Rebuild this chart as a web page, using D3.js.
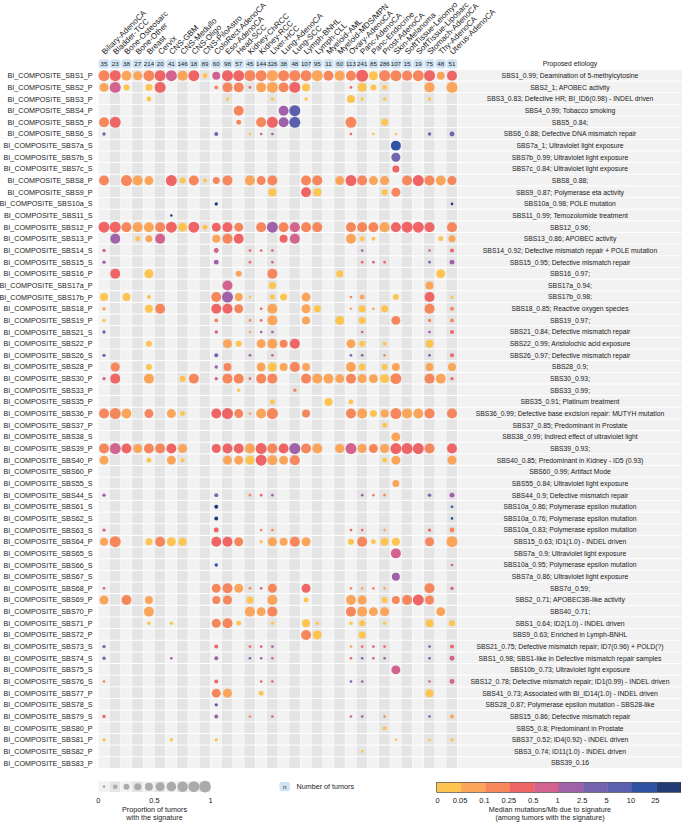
<!DOCTYPE html>
<html>
<head>
<meta charset="utf-8">
<script src="https://cdn.jsdelivr.net/npm/d3@7"></script>
<style>
  body { margin: 0; background: #fff; }
  svg { display: block; font-family: "Liberation Sans", Arial, sans-serif; }
</style>
</head>
<body>
<div class="chart"></div>
<script>
var svgWidth = 682;
var svgHeight = 828;

// cancer types (columns) and tumor counts
var cancerTypes = ["Biliary-AdenoCA", "Bladder-TCC", "Bone-Osteosarc", "Bone-Other", "Breast", "Cervix",
  "CNS-GBM", "CNS-Medullo", "CNS-Oligo", "CNS-PiloAstro", "ColoRect-AdenoCA", "Eso-AdenoCA", "Head-SCC",
  "Kidney-ChRCC", "Kidney-RCC", "Liver-HCC", "Lung-AdenoCA", "Lung-SCC", "Lymph-BNHL", "Lymph-CLL",
  "Myeloid-AML", "Myeloid-MDS/MPN", "Ovary-AdenoCA", "Panc-AdenoCA", "Panc-Endocrine", "Prost-AdenoCA",
  "Skin-Melanoma", "SoftTissue-Leiomyo", "SoftTissue-Liposarc", "Stomach-AdenoCA", "Thy-AdenoCA", "Uterus-AdenoCA"];
var tumorCounts = [35, 23, 38, 27, 214, 20, 41, 146, 18, 89, 60, 98, 57, 45, 144, 326, 38, 48, 107, 95,
  11, 60, 113, 241, 85, 286, 107, 15, 19, 75, 48, 51];

// signatures (rows)
var signatures = ["SBS1_P", "SBS2_P", "SBS3_P", "SBS4_P", "SBS5_P", "SBS6_S", "SBS7a_S", "SBS7b_S", "SBS7c_S",
  "SBS8_P", "SBS9_P", "SBS10a_S", "SBS11_S", "SBS12_P", "SBS13_P", "SBS14_S", "SBS15_S", "SBS16_P", "SBS17a_P",
  "SBS17b_P", "SBS18_P", "SBS19_P", "SBS21_S", "SBS22_P", "SBS26_S", "SBS28_P", "SBS30_P", "SBS33_P", "SBS35_P",
  "SBS36_P", "SBS37_P", "SBS38_S", "SBS39_P", "SBS40_P", "SBS60_P", "SBS55_S", "SBS44_S", "SBS61_S", "SBS62_S",
  "SBS63_S", "SBS64_P", "SBS65_S", "SBS66_S", "SBS67_S", "SBS68_P", "SBS69_P", "SBS70_P", "SBS71_P", "SBS72_P",
  "SBS73_S", "SBS74_S", "SBS75_S", "SBS76_S", "SBS77_P", "SBS78_S", "SBS79_S", "SBS80_P", "SBS81_P", "SBS82_P",
  "SBS83_P"];

var etiologies = ["SBS1_0.99; Deamination of 5-methylcytosine", "SBS2_1; APOBEC activity",
  "SBS3_0.83; Defective HR; BI_ID6(0.98) - INDEL driven", "SBS4_0.99; Tobacco smoking", "SBS5_0.84;",
  "SBS6_0.88; Defective DNA mismatch repair", "SBS7a_1; Ultraviolet light exposure",
  "SBS7b_0.99; Ultraviolet light exposure", "SBS7c_0.84; Ultraviolet light exposure", "SBS8_0.88;",
  "SBS9_0.87; Polymerase eta activity", "SBS10a_0.98; POLE mutation", "SBS11_0.99; Temozolomide treatment",
  "SBS12_0.96;", "SBS13_0.86; APOBEC activity", "SBS14_0.92; Defective mismatch repair + POLE mutation",
  "SBS15_0.95; Defective mismatch repair", "SBS16_0.97;", "SBS17a_0.94;", "SBS17b_0.98;",
  "SBS18_0.85; Reactive oxygen species", "SBS19_0.97;", "SBS21_0.84; Defective mismatch repair",
  "SBS22_0.99; Aristolochic acid exposure", "SBS26_0.97; Defective mismatch repair", "SBS28_0.9;",
  "SBS30_0.93;", "SBS33_0.99;", "SBS35_0.91; Platinum treatment",
  "SBS36_0.99; Defective base excision repair: MUTYH mutation", "SBS37_0.85; Predominant in Prostate",
  "SBS38_0.99; Indirect effect of ultraviolet light", "SBS39_0.93;",
  "SBS40_0.85; Predominant in Kidney - ID5 (0.93)", "SBS60_0.99; Artifact Mode",
  "SBS55_0.84; Ultraviolet light exposure", "SBS44_0.9; Defective mismatch repair",
  "SBS10a_0.86; Polymerase epsilon mutation", "SBS10a_0.76; Polymerase epsilon mutation",
  "SBS10a_0.83; Polymerase epsilon mutation", "SBS15_0.63; ID1(1.0) - INDEL driven",
  "SBS7a_0.9; Ultraviolet light exposure", "SBS10a_0.95; Polymerase epsilon mutation",
  "SBS7a_0.86; Ultraviolet light exposure", "SBS7d_0.59;", "SBS2_0.71; APOBEC3B-like activity",
  "SBS40_0.71;", "SBS1_0.64; ID2(1.0) - INDEL driven", "SBS9_0.63; Enriched in Lymph-BNHL",
  "SBS21_0.75; Defective mismatch repair; ID7(0.96) + POLD(?)",
  "SBS1_0.98; SBS1-like in Defective mismatch repair samples", "SBS10b_0.73; Ultraviolet light exposure",
  "SBS12_0.78; Defective mismatch repair; ID1(0.99) - INDEL driven",
  "SBS41_0.73; Associated with BI_ID14(1.0) - INDEL driven",
  "SBS28_0.87; Polymerase epsilon mutation - SBS28-like", "SBS15_0.86; Defective mismatch repair",
  "SBS5_0.8; Predominant in Prostate", "SBS37_0.52; ID4(0.92) - INDEL driven",
  "SBS3_0.74; ID11(1.0) - INDEL driven", "SBS39_0.16"];

// one list per signature: [cancer type index, proportion of tumors, median mutations/Mb]
var dotsByRow = [
  [[0,.84,.17],[1,.84,.35],[2,.69,.07],[3,.56,.07],[4,.84,.17],[5,.84,.35],[6,.84,.7],[7,.69,.07],[8,.84,.35],[9,.17,.03],[10,.44,.7],[11,.84,.35],[12,.84,.35],[13,.84,.17],[14,.84,.17],[15,.84,.07],[16,.84,.17],[17,.84,.17],[18,.84,.17],[19,.84,.07],[20,.69,.17],[21,.69,.07],[22,.69,.17],[23,1,.35],[24,.56,.03],[25,.84,.17],[26,.84,.17],[27,.69,.17],[28,.84,.17],[29,.84,.35],[30,.44,.07],[31,.69,.35]],
  [[0,.56,.07],[1,.84,.7],[2,.25,.03],[4,.34,.03],[5,.84,.35],[10,.11,.17],[11,.69,.17],[12,.69,.17],[13,.05,.35],[14,.69,.07],[15,.84,.07],[16,.69,.17],[17,.84,.35],[18,.44,.03],[22,.05,.35],[23,.56,.03],[24,.25,.03],[25,.15,.03],[29,.69,.07],[31,.84,.07]],
  [[4,.17,.03],[11,.08,.03],[15,.08,.03],[18,.08,.03],[22,.44,.03],[23,.08,.03],[25,.08,.03],[29,.08,.03]],
  [[12,.69,.17],[16,.69,1.6],[17,.84,7]],
  [[0,.69,.17],[1,.84,.35],[12,.17,.17],[14,.69,.17],[15,.84,.35],[16,.69,1.6],[17,.84,7],[22,.84,.17],[25,.34,.03]],
  [[0,.08,3.5],[10,.11,3.5],[13,.05,.03],[14,.05,.7],[15,.05,1.6],[22,.05,.35],[24,.05,.03],[26,.05,.03],[29,.08,3.5],[31,.17,3.5]],
  [[26,.69,15]],
  [[26,.56,3.5]],
  [[26,.34,.35]],
  [[0,.69,.17],[2,.84,.17],[3,.69,.07],[4,.56,.07],[6,.84,.35],[7,.25,.03],[8,.69,.17],[9,.11,.03],[10,.34,.17],[11,.69,.17],[13,.69,.07],[14,.56,.17],[15,.69,.17],[18,.69,.17],[19,.69,.17],[21,.56,.07],[22,.84,.35],[23,.69,.17],[24,.56,.07],[25,.56,.07],[27,.69,.17],[28,.84,.35],[29,.69,.17],[30,.69,.07],[31,.56,.17]],
  [[15,.44,.03],[18,.69,.35],[19,.44,.03],[25,.25,.03],[26,.56,.17]],
  [[10,.08,40],[31,.05,40]],
  [[6,.04,40]],
  [[0,.84,.35],[1,.84,.35],[2,.69,.17],[3,.69,.07],[4,.69,.07],[5,.69,.17],[6,.84,.35],[7,.56,.03],[8,.84,.35],[9,.17,.03],[10,.56,.35],[11,.69,.35],[12,.56,.17],[14,.69,.17],[15,.84,1.6],[16,.69,.17],[17,.69,.7],[18,.69,.17],[19,.69,.17],[22,.69,.17],[23,.69,.17],[24,.69,.17],[25,.69,.07],[26,.69,.35],[27,.84,.35],[28,.84,.35],[29,.69,.35],[31,.69,.17]],
  [[1,.69,1.6],[3,.17,.03],[4,.34,.07],[5,.69,.7],[10,.44,.07],[11,.69,.17],[12,.69,.35],[16,.44,.35],[17,.69,.7],[22,.69,.07],[23,.17,.03],[24,.11,.03],[30,.17,.03],[31,.34,.07]],
  [[0,.08,.7],[10,.17,.7],[13,.05,.35],[14,.05,.35],[15,.05,.7],[23,.05,1.6],[29,.05,.7],[31,.11,.35]],
  [[0,.08,1.6],[10,.17,1.6],[13,.05,.35],[15,.05,.7],[23,.05,.35],[24,.05,.7],[25,.05,.35],[29,.05,3.5],[31,.17,1.6]],
  [[1,.69,.35],[4,.56,.03],[12,.25,.07],[15,.69,.17],[21,.34,.03],[30,.56,.03]],
  [[11,.69,.7],[15,.34,.03],[29,.44,.07]],
  [[0,.44,.03],[2,.44,.03],[4,.11,.03],[10,.69,.17],[11,.84,1.6],[12,.44,.07],[13,.05,.03],[15,.17,.03],[16,.34,.03],[18,.56,.07],[22,.05,.17],[23,.17,.07],[26,.25,.03],[29,.69,.35],[31,.08,.03]],
  [[0,.08,.07],[4,.44,.03],[5,.69,.17],[10,.69,.35],[11,.69,.35],[12,.56,.17],[14,.05,.35],[15,.69,.07],[18,.56,.07],[19,.34,.03],[22,.05,.07],[23,.34,.03],[24,.05,.07],[25,.34,.03],[29,.69,.17],[31,.11,.17]],
  [[0,.08,.03],[10,.11,.17],[13,.05,.17],[14,.05,.35],[15,.69,.07],[18,.44,.07],[21,.56,.03],[23,.34,.03],[26,.56,.17],[29,.08,.17],[31,.11,.17]],
  [[0,.08,3.5],[10,.08,.7],[13,.05,.07],[14,.05,1.6],[15,.05,1.6],[23,.05,.7],[29,.05,1.6],[31,.11,.35]],
  [[4,.25,.03],[11,.56,.07],[12,.25,.03],[14,.56,.07],[15,.69,.07],[16,.44,.17],[17,.69,.35],[22,.56,.07],[23,.25,.03],[25,.11,.03],[29,.44,.03]],
  [[0,.08,3.5],[10,.11,3.5],[13,.05,1.6],[15,.05,.7],[22,.05,3.5],[23,.05,3.5],[25,.05,.17],[29,.05,3.5],[31,.11,.35]],
  [[1,.56,.17],[4,.25,.03],[10,.08,1.6],[11,.44,.17],[14,.56,.07],[15,.56,.03],[16,.44,.07],[17,.69,.17],[18,.44,.07],[22,.69,.07],[23,.34,.03],[25,.25,.03],[26,.44,.07],[29,.44,.07],[31,.44,.07]],
  [[0,.08,.7],[1,.69,.35],[4,.69,.07],[7,.25,.03],[8,.69,.17],[10,.08,.7],[11,.69,.17],[12,.69,.17],[13,.05,.35],[14,.69,.17],[15,.69,.17],[18,.69,.17],[19,.69,.07],[20,.69,.07],[21,.56,.07],[22,.69,.17],[23,.56,.07],[24,.56,.07],[25,.56,.03],[26,.84,.17],[29,.69,.17],[30,.69,.07],[31,.08,.35]],
  [[12,.08,.03],[17,.08,.17]],
  [[15,.17,.03],[20,.44,.03],[22,.17,.03]],
  [[0,.69,.17],[1,.84,.17],[2,.69,.07],[4,.56,.17],[6,.56,.07],[7,.17,.03],[10,.69,.35],[11,.84,.35],[12,.56,.17],[13,.05,.07],[14,.69,.07],[15,.84,.17],[18,.44,.17],[22,.69,.17],[23,.69,.07],[24,.34,.03],[25,.44,.07],[26,.84,.17],[27,.69,.07],[28,.69,.07],[29,.69,.17],[31,.69,.17]],
  [[25,.17,.03]],
  [[26,.56,.07]],
  [[0,.69,.17],[1,.84,.7],[2,.69,.35],[3,.56,.07],[4,.69,.17],[5,.69,.17],[6,.69,.35],[7,.56,.07],[10,.56,.35],[11,.69,.35],[12,.69,.35],[13,.69,.07],[14,.84,.35],[15,.69,.17],[16,.69,.35],[17,.84,1.6],[18,.69,.17],[19,.69,.07],[21,.56,.07],[22,.84,.7],[23,.56,.07],[24,.56,.17],[25,.56,.07],[26,.84,.35],[27,.84,.35],[28,.84,.35],[29,.69,.17],[31,.69,.35]],
  [[0,.56,.07],[4,.17,.03],[6,.56,.07],[7,.11,.03],[11,.56,.07],[12,.56,.07],[13,.56,.03],[14,.84,.35],[15,.69,.07],[16,.56,.07],[17,.69,.17],[25,.17,.03],[26,.56,.07],[31,.56,.07]],
  [],
  [[26,.34,.07]],
  [[0,.08,1.6],[10,.11,3.5],[13,.05,.17],[14,.05,.35],[15,.05,1.6],[23,.05,1.6],[24,.05,.17],[25,.05,.17],[29,.08,3.5],[31,.17,1.6]],
  [[10,.11,40],[31,.05,15]],
  [[10,.11,40],[31,.05,15]],
  [[0,.08,.7],[10,.17,.35],[14,.05,.17],[15,.05,.17],[22,.05,.35],[23,.05,.35],[25,.05,.07],[29,.08,.35],[31,.17,.17]],
  [[0,.44,.07],[1,.84,.17],[4,.34,.03],[5,.69,.17],[6,.56,.03],[7,.44,.03],[10,.69,.35],[11,.69,.35],[12,.56,.17],[14,.08,.03],[15,.56,.07],[16,.44,.07],[17,.69,.17],[18,.56,.07],[22,.25,.03],[23,.69,.17],[24,.17,.03],[25,.44,.03],[26,.44,.03],[29,.56,.17],[31,.84,.07]],
  [[26,.69,.7]],
  [[10,.08,15],[31,.05,.7]],
  [[26,.44,1.6]],
  [[0,.05,.7],[10,.56,.17],[11,.69,.17],[12,.56,.07],[13,.05,.17],[14,.05,.7],[15,.56,.17],[18,.56,.35],[22,.05,.17],[23,.05,.07],[24,.05,.17],[25,.05,.07],[29,.69,.17],[31,.08,.7]],
  [[0,.56,.07],[2,.69,.17],[4,.44,.07],[10,.44,.17],[11,.56,.17],[13,.34,.03],[15,.69,.07],[18,.17,.03],[22,.69,.07],[23,.56,.07],[25,.25,.03],[26,.44,.17],[27,.69,.17],[28,.84,.35],[29,.56,.17]],
  [[4,.69,.07],[13,.69,.07],[14,.56,.07],[15,.69,.17],[22,.69,.17],[23,.69,.07],[24,.56,.07],[25,.56,.07],[30,.56,.07]],
  [[4,.08,.03],[6,.08,.03],[10,.56,.17],[11,.69,.17],[12,.17,.03],[15,.08,.03],[18,.44,.03],[19,.08,.03],[22,.08,.03],[23,.25,.03],[25,.08,.03],[29,.44,.03],[31,.25,.03]],
  [[18,.69,.17],[19,.56,.03],[23,.34,.03]],
  [[0,.08,3.5],[10,.11,.35],[13,.05,.35],[14,.05,.7],[15,.05,1.6],[22,.05,.07],[23,.05,.35],[24,.05,.7],[25,.05,.35],[29,.05,3.5],[31,.11,.35]],
  [[0,.08,3.5],[6,.05,1.6],[10,.11,1.6],[13,.05,3.5],[14,.05,1.6],[15,.05,.7],[22,.05,.35],[23,.05,3.5],[24,.05,.7],[25,.05,1.6],[29,.05,3.5],[31,.17,.7]],
  [[26,.56,.7]],
  [[0,.05,.17],[10,.11,.35],[14,.05,.35],[15,.05,.35],[22,.05,3.5],[23,.05,1.6],[29,.05,.7],[31,.17,.7]],
  [[10,.56,.17],[11,.56,.07],[14,.17,.03],[29,.44,.03]],
  [[10,.08,7]],
  [[0,.08,.35],[10,.11,1.6],[13,.05,.17],[15,.05,.7],[22,.05,.7],[23,.05,1.6],[25,.05,.17],[29,.05,3.5],[31,.11,.07]],
  [[25,.11,.03]],
  [[0,.08,.03],[6,.08,.03],[10,.08,.03],[26,.05,.03],[29,.05,.03],[31,.08,.03]],
  [[23,.05,.03]],
  []
];

// color legend breaks and labels
var medianBreaks = [0.05, 0.1, 0.25, 0.5, 1, 2.5, 5, 10, 25];
var medianTickLabels = ["0", "0.05", "0.1", "0.25", "0.5", "1", "2.5", "5", "10", "25"];
var palette = ["#fdc44f", "#fba55a", "#f6875d", "#ef6566", "#d2628e", "#9f61a8", "#7464b0", "#5a5fae", "#2f52a2", "#213b74"];
var sizeLegendValues = [0.05, 0.15, 0.25, 0.35, 0.45, 0.55, 0.65, 0.75, 0.85, 0.95];
var sizeTickValues = [0, 0.5, 1];

var svg = d3.select(".chart")
  .append("svg")
  .attr("width", svgWidth)
  .attr("height", svgHeight);

// scales
var xScale = d3.scaleBand()
  .domain(d3.range(cancerTypes.length))
  .range([98.4, 457.6]);

var yScale = d3.scaleBand()
  .domain(d3.range(signatures.length))
  .range([69.9, 768.9]);

var colorScale = d3.scaleThreshold()
  .domain(medianBreaks)
  .range(palette);

var sizeScale = d3.scaleSqrt()
  .domain([0, 1])
  .range([0, 6]);

var cx = i => xScale(i) + xScale.bandwidth() / 2;
var cy = j => yScale(j) + yScale.bandwidth() / 2;

// background cells
var cells = [];
signatures.forEach(function(s, j) {
  cancerTypes.forEach(function(c, i) {
    cells.push({ i: i, j: j });
  });
});

svg.append("g")
  .selectAll("rect")
  .data(cells)
  .enter()
  .append("rect")
  .attr("x", d => xScale(d.i))
  .attr("y", d => yScale(d.j))
  .attr("width", xScale.bandwidth() - 0.5)
  .attr("height", yScale.bandwidth() - 1)
  .attr("fill", d => d.i % 2 === 0 ? "#f2f2f2" : "#e4e4e4");

// etiology panel rows
svg.append("g")
  .selectAll("rect")
  .data(signatures)
  .enter()
  .append("rect")
  .attr("x", 457.6)
  .attr("y", (d, j) => yScale(j))
  .attr("width", svgWidth - 457.6)
  .attr("height", yScale.bandwidth() - 1)
  .attr("fill", "#f2f2f2");

// dots
var dots = [];
dotsByRow.forEach(function(row, j) {
  row.forEach(function(d) {
    dots.push({ i: d[0], j: j, p: d[1], m: d[2] });
  });
});

svg.append("g")
  .selectAll("circle")
  .data(dots)
  .enter()
  .append("circle")
  .attr("cx", d => cx(d.i))
  .attr("cy", d => cy(d.j))
  .attr("r", d => sizeScale(d.p))
  .attr("fill", d => colorScale(d.m));

// signature labels
svg.append("g")
  .selectAll("text")
  .data(signatures)
  .enter()
  .append("text")
  .attr("x", 92.5)
  .attr("y", (d, j) => cy(j))
  .attr("dy", "0.35em")
  .attr("text-anchor", "end")
  .attr("font-size", 7.2)
  .attr("fill", "#1a1a1a")
  .text(d => "BI_COMPOSITE_" + d);

// etiology labels
svg.append("g")
  .selectAll("text")
  .data(etiologies)
  .enter()
  .append("text")
  .attr("x", 570)
  .attr("y", (d, j) => cy(j))
  .attr("dy", "0.35em")
  .attr("text-anchor", "middle")
  .attr("font-size", 6.8)
  .attr("fill", "#1a1a1a")
  .text(d => d);

svg.append("text")
  .attr("x", 570)
  .attr("y", 64)
  .attr("dy", "0.35em")
  .attr("text-anchor", "middle")
  .attr("font-size", 6.8)
  .attr("fill", "#1a1a1a")
  .text("Proposed etiology");

// tumor count badges
var badges = svg.append("g")
  .selectAll("g")
  .data(tumorCounts)
  .enter()
  .append("g")
  .attr("transform", (d, i) => `translate(${cx(i)}, 63.8)`);

badges.append("rect")
  .attr("x", -5.2)
  .attr("y", -4.6)
  .attr("width", 10.4)
  .attr("height", 9.2)
  .attr("rx", 2.5)
  .attr("fill", "#cfe2f4");

badges.append("text")
  .attr("dy", "0.35em")
  .attr("text-anchor", "middle")
  .attr("font-size", 6.2)
  .attr("fill", "#222")
  .text(d => d);

// cancer type labels
svg.append("g")
  .selectAll("text")
  .data(cancerTypes)
  .enter()
  .append("text")
  .attr("transform", (d, i) => `translate(${cx(i) + 1}, 55) rotate(-45)`)
  .attr("font-size", 8)
  .attr("fill", "#1a1a1a")
  .text(d => d);

// size legend
var sizeX = d3.scaleLinear().domain([0, 1]).range([98.4, 98.4 + 10 * xScale.bandwidth()]);
var sizeLegend = svg.append("g");

sizeLegend.selectAll("rect")
  .data(sizeLegendValues)
  .enter()
  .append("rect")
  .attr("x", (d, k) => sizeX(k / 10))
  .attr("y", 781.5)
  .attr("width", xScale.bandwidth() - 0.5)
  .attr("height", 10.5)
  .attr("fill", (d, k) => k % 2 === 0 ? "#f2f2f2" : "#e4e4e4");

sizeLegend.selectAll("circle")
  .data(sizeLegendValues)
  .enter()
  .append("circle")
  .attr("cx", d => sizeX(d))
  .attr("cy", 786.7)
  .attr("r", d => sizeScale(d))
  .attr("fill", "#ababab");

sizeLegend.selectAll(".tick")
  .data(sizeTickValues)
  .enter()
  .append("text")
  .attr("class", "tick")
  .attr("x", d => sizeX(d))
  .attr("y", 800)
  .attr("dy", "0.35em")
  .attr("text-anchor", "middle")
  .attr("font-size", 7.5)
  .attr("fill", "#1a1a1a")
  .text(d => d);

sizeLegend.selectAll(".title")
  .data(["Proportion of tumors", "with the signature"])
  .enter()
  .append("text")
  .attr("class", "title")
  .attr("x", sizeX(0.5))
  .attr("y", (d, k) => 809.3 + k * 8)
  .attr("dy", "0.35em")
  .attr("text-anchor", "middle")
  .attr("font-size", 7.2)
  .attr("fill", "#1a1a1a")
  .text(d => d);

// number of tumors legend
svg.append("rect")
  .attr("x", 279.5)
  .attr("y", 782.1)
  .attr("width", 10.4)
  .attr("height", 9.2)
  .attr("rx", 2.5)
  .attr("fill", "#cfe2f4");

svg.append("text")
  .attr("x", 284.7)
  .attr("y", 786.7)
  .attr("dy", "0.35em")
  .attr("text-anchor", "middle")
  .attr("font-size", 6.2)
  .attr("fill", "#222")
  .text("n");

svg.append("text")
  .attr("x", 296.5)
  .attr("y", 786.7)
  .attr("dy", "0.35em")
  .attr("font-size", 7.2)
  .attr("fill", "#1a1a1a")
  .text("Number of tumors");

// color legend
var barX = d3.scaleLinear().domain([0, palette.length]).range([436.7, 680.7]);
var colorLegend = svg.append("g");

colorLegend.selectAll("rect")
  .data(palette)
  .enter()
  .append("rect")
  .attr("x", (d, k) => barX(k))
  .attr("y", 782.3)
  .attr("width", barX(1) - barX(0) + 0.3)
  .attr("height", 10)
  .attr("fill", d => d);

colorLegend.append("rect")
  .attr("x", barX(0))
  .attr("y", 782.3)
  .attr("width", barX(palette.length) - barX(0))
  .attr("height", 10)
  .attr("fill", "none")
  .attr("stroke", "#333")
  .attr("stroke-width", 0.6);

colorLegend.selectAll(".tick")
  .data(medianTickLabels)
  .enter()
  .append("text")
  .attr("class", "tick")
  .attr("x", (d, k) => barX(k) + (k === 0 ? 1 : -1))
  .attr("y", 800)
  .attr("dy", "0.35em")
  .attr("text-anchor", "middle")
  .attr("font-size", 7.5)
  .attr("fill", "#1a1a1a")
  .text(d => d);

colorLegend.selectAll(".title")
  .data(["Median mutations/Mb due to signature", "(among tumors with the signature)"])
  .enter()
  .append("text")
  .attr("class", "title")
  .attr("x", 550)
  .attr("y", (d, k) => 809.3 + k * 8)
  .attr("dy", "0.35em")
  .attr("text-anchor", "middle")
  .attr("font-size", 7.2)
  .attr("fill", "#1a1a1a")
  .text(d => d);
</script>
</body>
</html>
